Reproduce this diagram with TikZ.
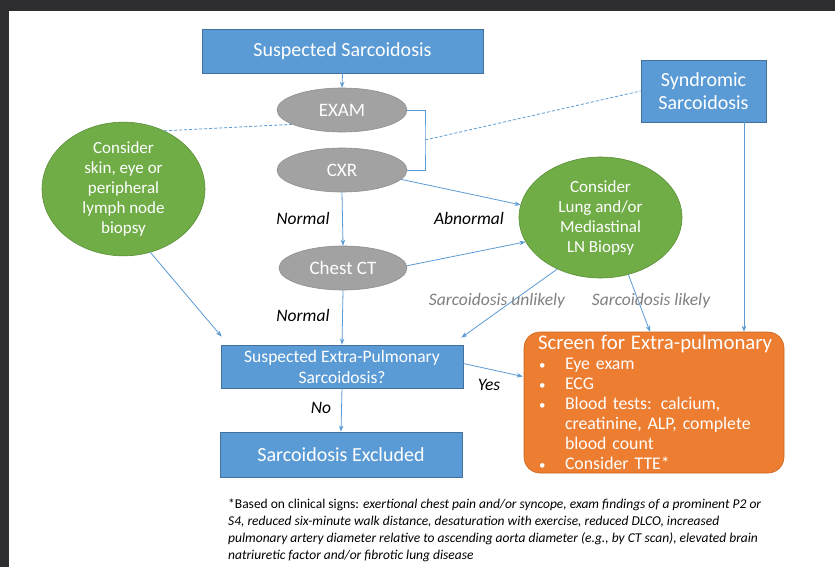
\documentclass[tikz,border=0pt]{standalone}
\usepackage{fontspec}
\setmainfont{Carlito}
\usetikzlibrary{shapes.geometric,arrows.meta}
\definecolor{bblue}{HTML}{5B9BD5}
\definecolor{bblueD}{HTML}{41719C}
\definecolor{ggreen}{HTML}{70AD47}
\definecolor{ggreenD}{HTML}{5A8F38}
\definecolor{ggray}{HTML}{A2A2A2}
\definecolor{ggrayD}{HTML}{8E8E8E}
\definecolor{oorange}{HTML}{ED7D31}
\definecolor{oorangeD}{HTML}{C9671F}
\definecolor{frame}{HTML}{2E2E30}
\definecolor{lblgray}{HTML}{808080}
\newcommand{\fsz}[2]{\fontsize{#1}{#2}\selectfont}
\newcommand{\blt}{\makebox[27pt][l]{\hspace{1pt}{\fontsize{13}{20}\selectfont•}}}
\begin{document}
\begin{tikzpicture}[x=1pt,y=-1pt,
  bbox/.style={draw=bblueD, fill=bblue, line width=0.8pt, text=white, inner sep=0pt, align=center},
  gell/.style={ellipse, draw=ggrayD, fill=ggray, line width=0.6pt, text=white, inner sep=0pt, font=\fsz{19}{22}},
  grn/.style={ellipse, draw=ggreenD, fill=ggreen, line width=0.6pt, text=white, inner sep=0pt, align=center, font=\fsz{17}{20}},
  arr/.style={draw=bblue, line width=0.8pt, -{Stealth[length=6pt,width=4.5pt]}},
  dsh/.style={draw=bblue, line width=0.8pt, dash pattern=on 3pt off 2pt},
  lbl/.style={font=\fsz{17.5}{20}\itshape, inner sep=0pt},
  glbl/.style={lbl, text=lblgray},
  scrbox/.style={draw=oorangeD, fill=oorange, rounded corners=16pt, line width=0.6pt, text=white,
    minimum width=260pt, minimum height=141pt, inner xsep=14pt, inner ysep=0pt, text width=232pt, align=left,
    font=\fsz{17.8}{20}}
]
\useasboundingbox (0,0) rectangle (835,567);
\fill[frame] (0,0) rectangle (835,567);
\fill[white] (9,11) rectangle (835,567);

% nodes
\node[bbox, minimum width=281pt, minimum height=44pt, font=\fsz{20}{23}] (ss) at (342.5,51) {Suspected Sarcoidosis};
\node[gell, minimum width=130pt, minimum height=44pt] (exam) at (342,110) {EXAM};
\node[gell, minimum width=130pt, minimum height=44pt] (cxr) at (342,170) {CXR};
\node[gell, minimum width=128pt, minimum height=44pt] (ct) at (343,268) {Chest CT};
\node[bbox, minimum width=125pt, minimum height=62pt, font=\fsz{20}{23}] (synd) at (703.5,91) {Syndromic\\Sarcoidosis};
\node[grn, minimum width=163pt, minimum height=122pt] (lg) at (123.5,189) {Consider\\skin, eye or\\peripheral\\lymph node\\biopsy};
\node[grn, minimum width=163pt, minimum height=121pt] (rg) at (600.5,217.5) {Consider\\Lung and/or\\Mediastinal\\LN Biopsy};
\node[bbox, minimum width=242pt, minimum height=43pt, font=\fsz{17.5}{21}] (extra) at (342,366.5) {Suspected Extra-Pulmonary\\Sarcoidosis?};
\node[bbox, minimum width=242pt, minimum height=45pt, font=\fsz{20}{23}] (excl) at (341,454.5) {Sarcoidosis Excluded};
\node[scrbox] (scr) at (654,402.5) {%
  \mbox{\fontsize{20.8}{20}\selectfont Screen for Extra-pulmonary}\\
  \blt Eye exam\\
  \blt ECG\\
  \blt Blood tests: calcium,\\
  \hspace*{27pt}creatinine, ALP, complete\\
  \hspace*{27pt}blood count\\
  \blt Consider TTE*};

% bracket and dashed links
\coordinate (bx) at (425,140);
\draw[draw=bblue, line width=0.8pt] (exam.east) -| (bx) |- (cxr.east);
\draw[dsh] (bx) -- (synd.west);
\draw[dsh] (exam.196) -- (lg.55);

% arrows
\draw[arr] (ss.south) -- (exam.north);
\draw[arr] (cxr.south) -- (ct.north);
\draw[arr] (cxr.-9) -- (rg.171);
\draw[arr] (ct.2) -- (rg.198);
\draw[arr] (ct.south) -- (extra.north);
\draw[arr] (lg.-67) -- ([xshift=1pt,yshift=8pt]extra.north west);
\draw[arr] (rg.230) -- ([xshift=-2pt,yshift=7pt]extra.north east);
\draw[arr] (rg.-64) -- ([xshift=-4pt]scr.north);
\draw[arr] ([xshift=40.5pt]synd.south) -- ([xshift=40.5pt]synd.south |- scr.north);
\draw[arr] ([yshift=3pt]extra.east) -- ([xshift=-1pt,yshift=26pt]scr.west);
\draw[arr] (extra.south) -- (excl.north);

% labels
\node[lbl] (l1) at (303,218) {Normal};
\node[lbl] (l2) at (469,218) {Abnormal};
\node[lbl] (l3) at (303,315) {Normal};
\node[glbl] (l4) at (497,301) {Sarcoidosis unlikely};
\node[glbl] (l5) at (651,301) {Sarcoidosis likely};
\node[lbl] (l6) at (489,385) {Yes};
\node[lbl] (l7) at (321,408) {No};

% footnote
\node[anchor=north west, inner sep=0pt, align=left, font=\fsz{13.5}{16.8}] (fn) at (228,499) {%
*Based on clinical signs: \textit{exertional chest pain and/or syncope, exam findings of a prominent P2 or}\\
\textit{S4, reduced six-minute walk distance, desaturation with exercise, reduced DLCO, increased}\\
\textit{pulmonary artery diameter relative to ascending aorta diameter (e.g., by CT scan), elevated brain}\\
\textit{natriuretic factor and/or fibrotic lung disease}};
\end{tikzpicture}
\end{document}
